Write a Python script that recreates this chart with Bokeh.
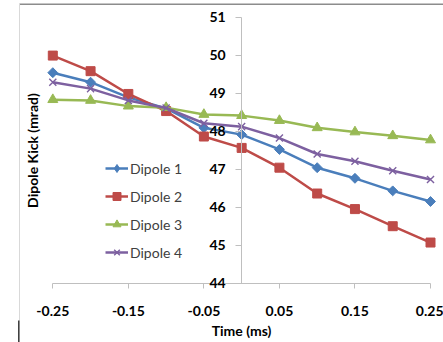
import numpy as np
from bokeh.plotting import figure
from bokeh.models import (Range1d, FixedTicker, Legend, LegendItem, BoxAnnotation,
                          Label, LinearAxis)
from bokeh.embed import file_html
from bokeh.resources import INLINE

time_ms = [-0.25, -0.2, -0.15, -0.1, -0.05, 0.0, 0.05, 0.1, 0.15, 0.2, 0.25]
dipole1 = [49.54, 49.29, 48.89, 48.60, 48.09, 47.91, 47.52, 47.04, 46.76, 46.43, 46.15]
dipole2 = [49.99, 49.58, 48.98, 48.53, 47.86, 47.56, 47.04, 46.36, 45.95, 45.50, 45.07]
dipole3 = [48.83, 48.81, 48.66, 48.62, 48.44, 48.41, 48.28, 48.09, 47.98, 47.88, 47.77]
dipole4 = [49.29, 49.12, 48.81, 48.61, 48.21, 48.12, 47.82, 47.40, 47.21, 46.96, 46.73]

series_names = ["Dipole 1", "Dipole 2", "Dipole 3", "Dipole 4"]
x_ticks = [-0.25, -0.15, -0.05, 0.05, 0.15, 0.25]
x_tick_labels = ["-0.25", "-0.15", "-0.05", "0.05", "0.15", "0.25"]
y_ticks = [44, 45, 46, 47, 48, 49, 50, 51]
x_title = "Time (ms)"
y_title = "Dipole Kick (mrad)"

FONT = "Lato"
W, H = 443, 342
# pixel layout of the data area (left, right, top, bottom)
PL, PR, PT, PB = 52.3, 430.0, 16.7, 282.7
xmin, xmax = x_ticks[0], x_ticks[-1]
ymin, ymax = y_ticks[0], y_ticks[-1]
sx = (PR - PL) / (xmax - xmin)
sy = (PB - PT) / (ymax - ymin)

p = figure(width=W, height=H, output_backend="svg", toolbar_location=None,
           x_range=Range1d(xmin - PL / sx, xmax + (W - PR) / sx),
           y_range=Range1d(ymin - (H - PB) / sy, ymax + PT / sy),
           min_border=0, x_axis_location=None, y_axis_location=None)
p.outline_line_color = None
p.xgrid.visible = False
p.ygrid.visible = False
p.background_fill_color = "white"
p.border_fill_color = "white"

# chart area border (top and left edges) and small mark at lower left
p.add_layout(BoxAnnotation(left=19, right=W + 5, top=H - 3, bottom=H - 4.5,
                           left_units="screen", right_units="screen",
                           top_units="screen", bottom_units="screen",
                           fill_color="#8C8C8C", fill_alpha=1, line_alpha=0, level="underlay"))
p.add_layout(BoxAnnotation(left=18.5, right=19.5, top=H - 3, bottom=-5,
                           left_units="screen", right_units="screen",
                           top_units="screen", bottom_units="screen",
                           fill_color="#D9D9D9", fill_alpha=1, line_alpha=0, level="underlay"))
p.add_layout(BoxAnnotation(left=17.5, right=19, top=22, bottom=-5,
                           left_units="screen", right_units="screen",
                           top_units="screen", bottom_units="screen",
                           fill_color="#404040", fill_alpha=1, line_alpha=0, level="underlay"))

# x axis at y = 44
xa = LinearAxis(fixed_location=ymin, bounds=(xmin, xmax))
xa.ticker = FixedTicker(ticks=x_ticks)
xa.major_label_overrides = {t: l for t, l in zip(x_ticks, x_tick_labels)}
xa.minor_tick_line_color = None
xa.major_tick_in = 0
xa.major_tick_out = 5
xa.axis_line_color = "#BFBFBF"
xa.major_tick_line_color = "#BFBFBF"
xa.major_label_text_font = FONT
xa.major_label_text_font_style = "bold"
xa.major_label_text_font_size = "14px"
xa.major_label_text_color = "#000000"
xa.major_label_standoff = 18
xa.axis_label = x_title
xa.axis_label_text_font = FONT
xa.axis_label_text_font_style = "bold"
xa.axis_label_text_font_size = "14px"
xa.axis_label_text_color = "#000000"
xa.axis_label_standoff = 2
p.add_layout(xa, "below")

# y axis at x = 0
ya = LinearAxis(fixed_location=0, bounds=(ymin, ymax))
ya.ticker = FixedTicker(ticks=y_ticks)
ya.minor_tick_line_color = None
ya.major_tick_in = 0
ya.major_tick_out = 6
ya.axis_line_color = "#BFBFBF"
ya.major_tick_line_color = "#BFBFBF"
ya.major_label_text_font = FONT
ya.major_label_text_font_style = "bold"
ya.major_label_text_font_size = "14px"
ya.major_label_text_color = "#000000"
ya.major_label_standoff = 10
p.add_layout(ya, "left")

# y title
p.add_layout(Label(x=32, y=H - 150, x_units="screen", y_units="screen", text=y_title,
                   angle=np.pi / 2, text_align="center", text_baseline="middle",
                   text_font=FONT, text_font_style="bold", text_font_size="14px",
                   text_color="#000000"))

colors = ["#4A7EBB", "#BE4B48", "#98B954", "#7D60A0"]
markers = ["square", "square", "triangle", "x"]
angles = [np.pi / 4, 0, 0, 0]
sizes = [7, 9, 10, 10]
series = [dipole1, dipole2, dipole3, dipole4]

items = []
for i, (name, ys, c, m, a, s) in enumerate(zip(series_names, series, colors, markers, angles, sizes)):
    ln = p.line(time_ms, ys, line_color=c, line_width=2.5)
    sc = p.scatter(time_ms, ys, marker=m, size=s, angle=a, fill_color=c, line_color=c,
                   line_width=1.4 if m == "x" else 1)
    if i == 0:
        # legend-only diamond (nothing drawn in the plot)
        leg = p.scatter(x=[np.nan], y=[np.nan], marker="diamond", size=10,
                        fill_color=c, line_color=c)
        items.append(LegendItem(label=name, renderers=[ln, leg]))
    else:
        items.append(LegendItem(label=name, renderers=[ln, sc]))

legend = Legend(items=items, location=(105, 80), orientation="vertical",
                glyph_width=23, glyph_height=20, label_height=20, spacing=8,
                padding=0, margin=0, label_standoff=2,
                label_text_font=FONT, label_text_font_size="14px", label_text_color="#404040",
                border_line_color=None, background_fill_alpha=0)
p.add_layout(legend, "center")

open("out.html", "w").write(file_html(p, INLINE))
